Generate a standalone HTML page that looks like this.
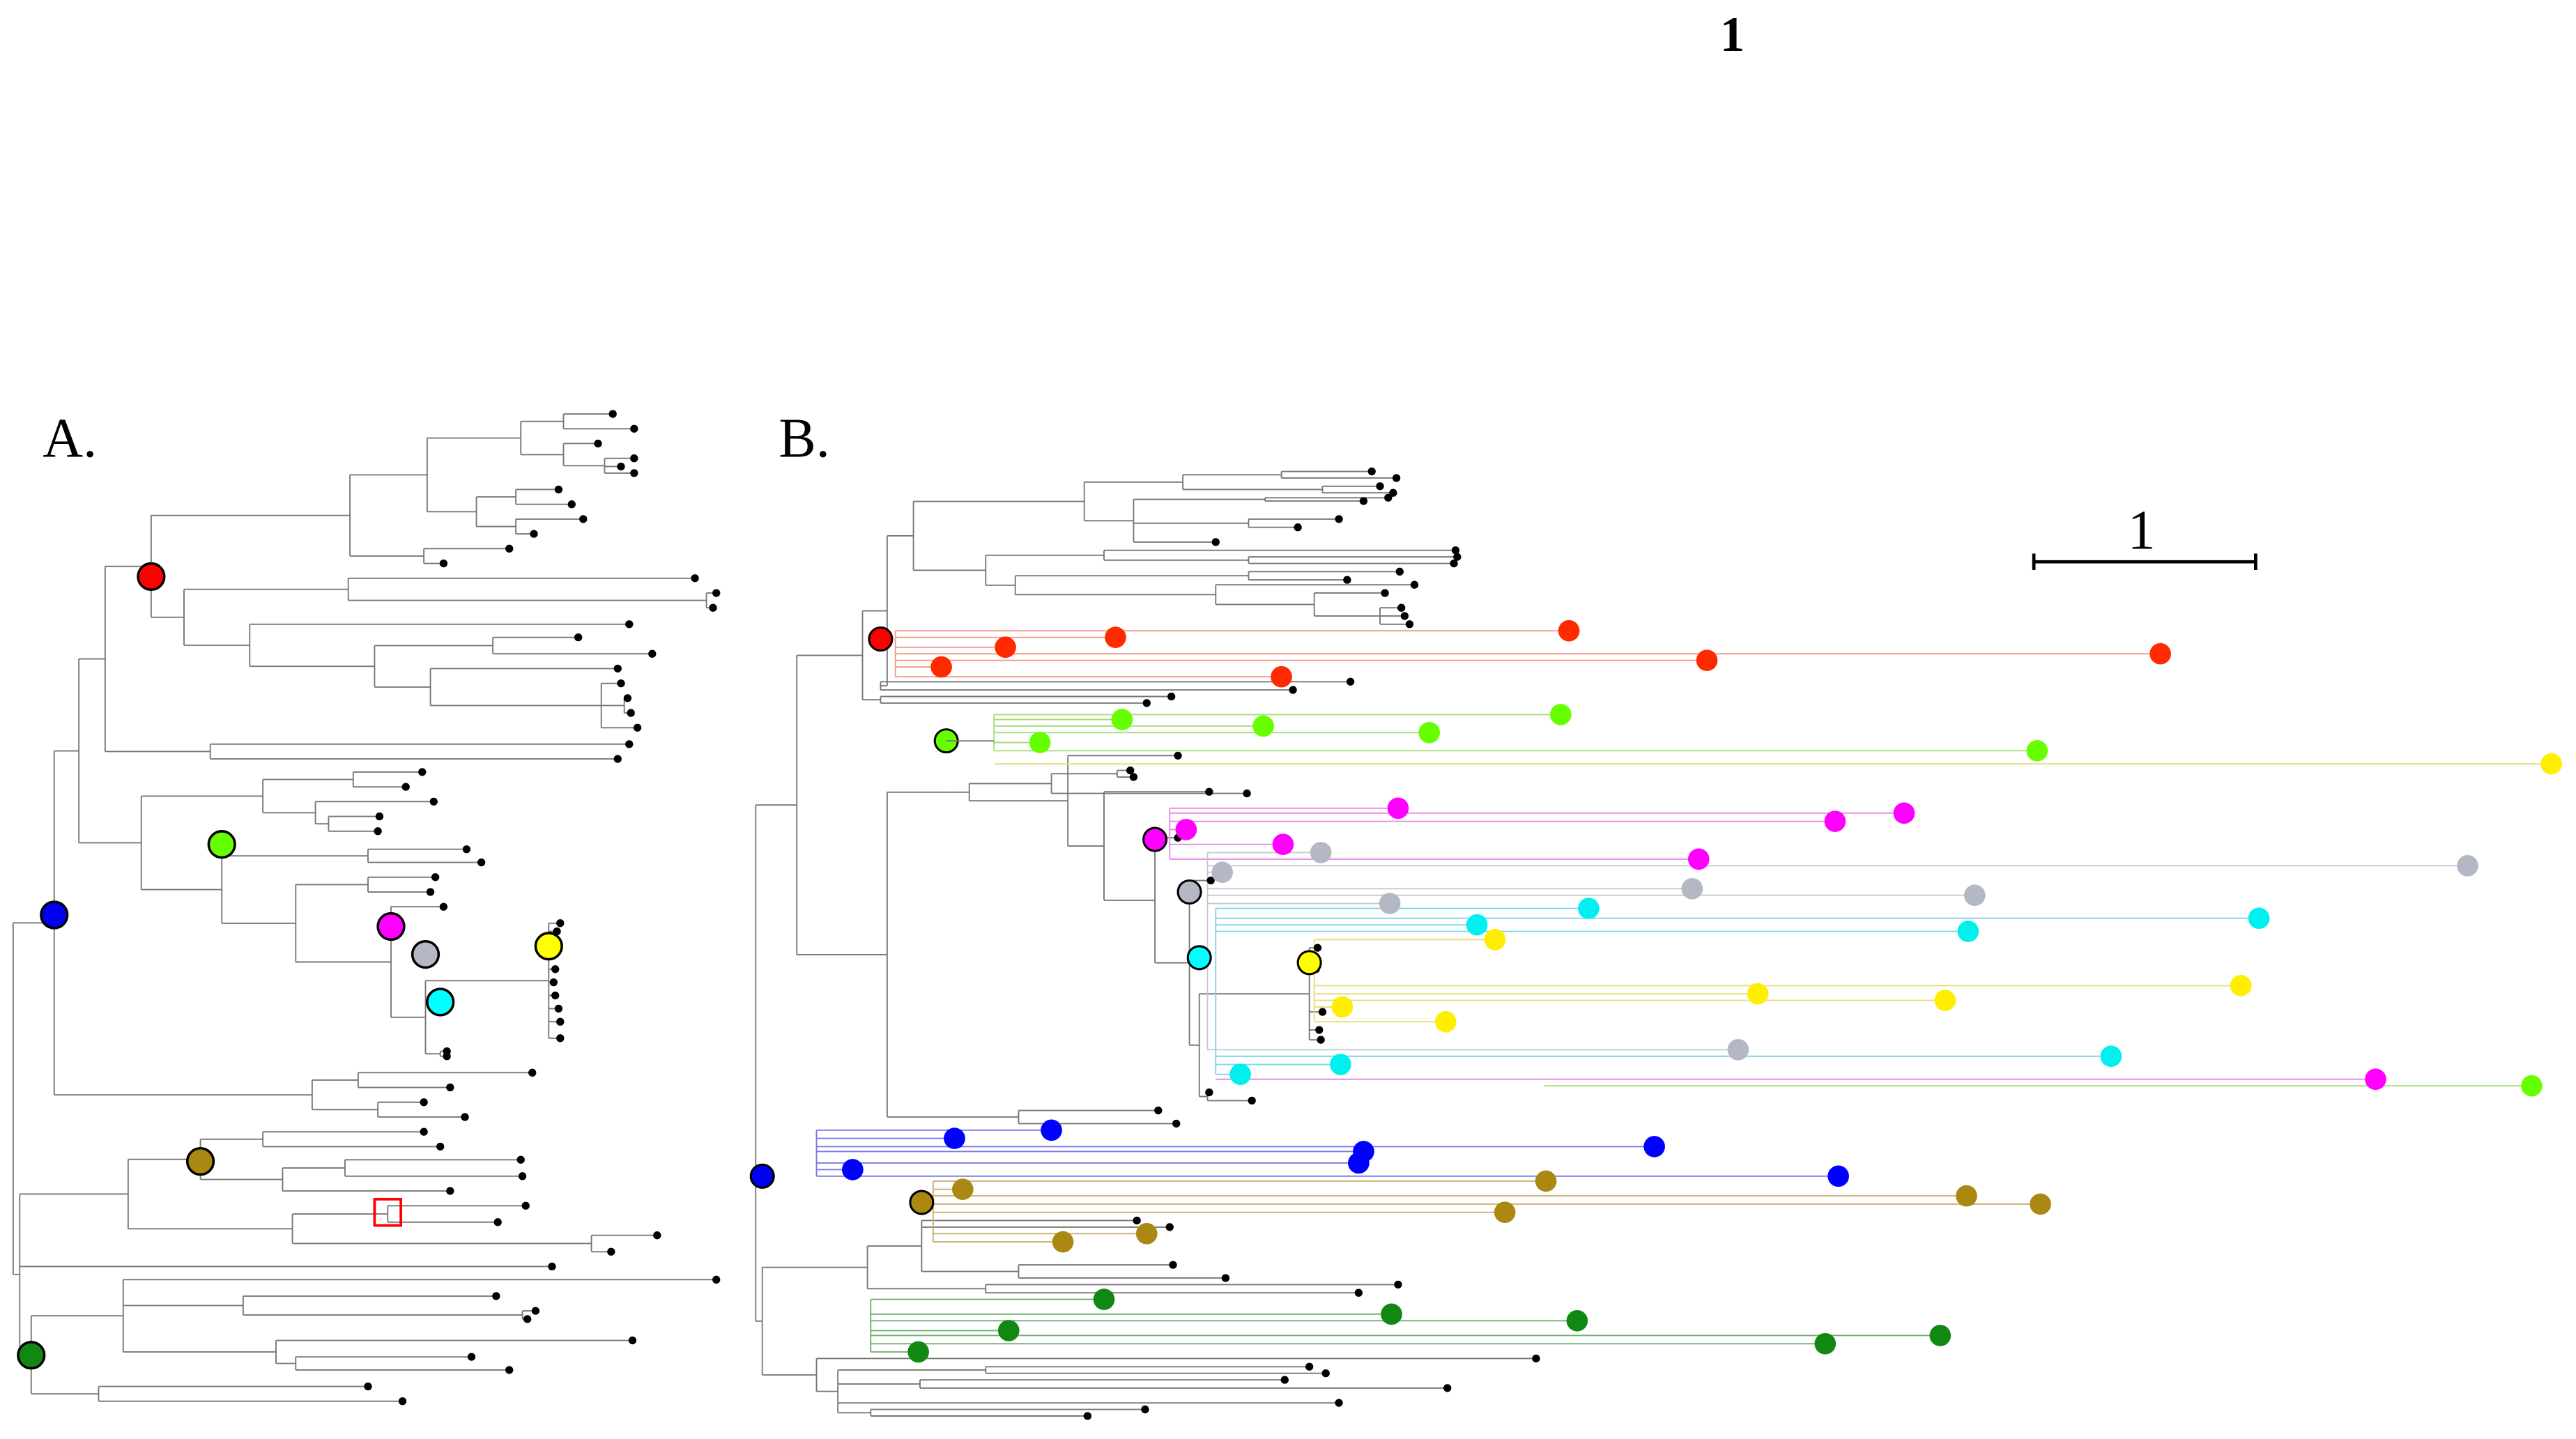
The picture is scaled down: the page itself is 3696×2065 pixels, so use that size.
<!DOCTYPE html>
<html><head><meta charset="utf-8">
<style>
html,body{margin:0;padding:0;background:#fff;}
svg{display:block;}
text{font-family:"Liberation Serif",serif;fill:#000;}
</style></head>
<body>
<svg id="s" xmlns="http://www.w3.org/2000/svg" width="3696" height="2065" viewBox="0 0 1568 876" preserveAspectRatio="none">
<rect width="1568" height="876" fill="#fff"/>
<g id="lines" stroke="#777" stroke-width="0.8" fill="none"></g>
<g id="col" stroke-width="0.8" fill="none"></g>
<g id="dots" fill="#000"></g>
<g id="circ"></g>
<text x="26" y="278" font-size="34">A.</text>
<text x="474" y="278" font-size="34">B.</text>
<text x="1047" y="31" font-size="30" font-weight="bold">1</text>
<line x1="1055" y1="14" x2="1055" y2="24" stroke="#000" stroke-width="2"/>
<text x="1295" y="334" font-size="34">1</text>
<line x1="1238" y1="342" x2="1373" y2="342" stroke="#000" stroke-width="2"/>
<line x1="1238" y1="337" x2="1238" y2="347" stroke="#000" stroke-width="2"/>
<line x1="1373" y1="337" x2="1373" y2="347" stroke="#000" stroke-width="2"/>
<line x1="576" y1="451" x2="605" y2="451" stroke="#777" stroke-width="0.8"/>
</svg>
<script>
const NS="http://www.w3.org/2000/svg";
const G=id=>document.getElementById(id);
function el(p,t,a){const e=document.createElementNS(NS,t);for(const k in a)e.setAttribute(k,a[k]);p.appendChild(e);return e;}
function N(x,...c){return {x,c};}
function L(x,y){return {x,y,leaf:1};}
function ln(x1,y1,x2,y2){el(G('lines'),'line',{x1,y1,x2,y2});}
function draw(n){
  if(n.leaf){el(G('dots'),'circle',{cx:n.x,cy:n.y,r:2.4});return n.y;}
  const ys=n.c.map(ch=>{const y=draw(ch);ln(n.x,y,ch.x,y);return y;});
  const mn=Math.min(...ys),mx=Math.max(...ys);
  ln(n.x,mn,n.x,mx);return (mn+mx)/2;
}
const A=N(8,
 N(33,
  N(48,
   N(64,
    N(92,
     N(213,N(260,N(317,N(343,L(373,252),L(386,261)),N(343,L(364,270),N(368,L(386,279),L(378,284),L(386,288)))),N(290,N(314,L(340,298),L(348,307)),N(314,L(355,316),L(325,325)))),N(258,L(310,334),L(270,343))),
     N(112,N(212,L(423,352),N(430,L(436,361),L(434,370))),N(152,L(383,380),N(228,N(300,L(352,388),L(397,398)),N(262,L(376,407),N(366,L(378,416),N(380,L(382,425),L(384,434)),L(388,443))))))
    ),
    N(128,L(383,453),L(376,462))
   ),
   N(86,
    N(160,N(215,L(257,470),L(247,479)),N(192,L(264,488),N(200,L(231,497),L(230,506)))),
    N(135,N(224,L(284,517),L(293,525)),N(180,N(224,L(265,534),L(262,543)),N(212,
      N(238,L(270,552),N(259,N(334,L(341,562),L(339,567),L(336,580),L(338,590),L(337,598),L(338,606),L(340,614),L(341,622),L(341,632)),N(268,L(272,643),L(272,640))))
    )))
   )
  ),
  N(190,N(218,L(324,653),L(274,662)),N(230,L(258,671),L(283,680)))
 ),
 N(12,
  N(78,
   N(122,N(160,L(258,689),L(268,698)),N(172,N(210,L(317,706),L(318,716)),L(274,725))),
   N(178,N(236,L(320,734),L(303,744)),N(360,L(400,752),L(372,762)))
  ),
  L(336,771),
  N(19,N(75,L(436,779),N(148,L(302,789),N(318,L(326,798),L(321,803))),N(168,L(385,816),N(180,L(287,826),L(310,834)))),N(60,L(224,844),L(245,853)))
 )
);
draw(A);
const TOP=N(540,
 N(556,
  N(660,N(720,N(780,L(835,287),L(850,291)),N(805,L(840,296),L(848,300))),N(690,N(770,L(830,305),L(845,303)),N(760,L(815,316),L(790,321)),L(740,330))),
  N(600,N(672,L(886,335),N(760,L(887,339),L(885,343))),N(618,N(760,L(852,348),L(820,353)),N(740,L(861,356),N(800,L(843,361),N(840,L(853,370),L(855,375),L(858,380))))))
 ),
 N(536,L(822,415),L(787,420))
);
const MID=N(540,
 N(575,
  N(590,N(640,N(680,L(688,469),L(690,473)),L(759,483)),
   N(650,L(717,460),N(672,L(736,482),N(703,L(717,510),N(724,L(737,536),N(730,N(797,L(802,577),L(801,590),L(805,616),L(803,627),L(804,633)),N(735,L(736,665),L(762,670))))))))
 ),
 N(620,L(705,676),L(716,684))
);
const B=N(460,
 N(485,N(525,TOP,N(536,L(713,424),L(698,428))),MID),
 N(464,
  N(528,N(561,L(692,743),L(712,747),N(620,L(746,778),L(714,770))),N(600,L(851,782),L(827,787))),
  N(497,N(520,N(600,L(935,827))),N(510,N(600,L(797,832),L(807,836)),N(560,L(782,840),L(881,845)),N(580,L(815,854)),N(530,L(697,858),L(662,862))))
 )
);
draw(B);
const groups=[
 ['#ff2a00','#f29a8a',545,[[955,384],[612,394],[679,388],[1315,398],[1039,402],[573,406],[780,412]]],
 ['#66ff00','#a6dd7a',605,[[683,438],[769,442],[870,446],[950,435],[633,452],[1240,457]]],
 ['#ffee00','#e6dc7a',605,[[1553,465]]],
 ['#ffee00','#e6dc7a',800,[[910,572],[1070,605],[1184,609],[1364,600],[817,613],[880,622]]],
 ['#ff00ff','#e68ae6',712,[[851,492],[1159,495],[1117,500],[722,505],[781,514],[1034,523]]],
 ['#ff00ff','#e68ae6',740,[[1446,657]]],
 ['#66ff00','#a6dd7a',940,[[1541,661]]],
 ['#b4b8c4','#c4c8d0',735,[[804,519],[744,531],[1502,527],[1030,541],[846,550],[1202,545],[1058,639]]],
 ['#00f0f0','#7ad8e6',740,[[967,553],[899,563],[1375,559],[1198,567],[816,648],[755,654],[1285,643]]],
 ['#0000ff','#7a7ae6',497,[[581,693],[640,688],[830,701],[827,708],[1007,698],[519,712],[1119,716]]],
 ['#aa8811','#c8b070',568,[[586,724],[941,719],[1197,728],[1242,733],[916,738],[647,756],[698,751]]],
 ['#118811','#70b070',530,[[672,791],[847,800],[960,804],[614,810],[559,823],[1111,818],[1181,813]]]
];
groups.forEach(([c,lc,x0,pts])=>{
  const ys=pts.map(p=>p[1]);
  el(G('col'),'line',{x1:x0,y1:Math.min(...ys),x2:x0,y2:Math.max(...ys),stroke:lc});
  pts.forEach(([x,y])=>{
    el(G('col'),'line',{x1:x0,y1:y,x2:x,y2:y,stroke:lc});
    el(G('circ'),'circle',{cx:x,cy:y,r:6.5,fill:c});
  });
});
[[92,351,'#ff0000'],[135,514,'#66ff00'],[238,564,'#ff00ff'],[259,581,'#b4b8c4'],[268,610,'#00ffff'],[334,576,'#ffff00'],[33,557,'#0000ee'],[122,707,'#aa8811'],[19,825,'#118811']]
 .forEach(([x,y,c])=>el(G('circ'),'circle',{cx:x,cy:y,r:8,fill:c,stroke:'#000','stroke-width':1.5}));
[[536,389,'#ff0000'],[576,451,'#66ff00'],[703,511,'#ff00ff'],[724,543,'#b4b8c4'],[730,583,'#00ffff'],[797,586,'#ffff00'],[464,716,'#0000ee'],[561,732,'#aa8811']]
 .forEach(([x,y,c])=>el(G('circ'),'circle',{cx:x,cy:y,r:7,fill:c,stroke:'#000','stroke-width':1.3}));
el(G('circ'),'rect',{x:228,y:730,width:16,height:16,fill:'none',stroke:'#ff0000','stroke-width':1.6});
</script>
</body></html>
